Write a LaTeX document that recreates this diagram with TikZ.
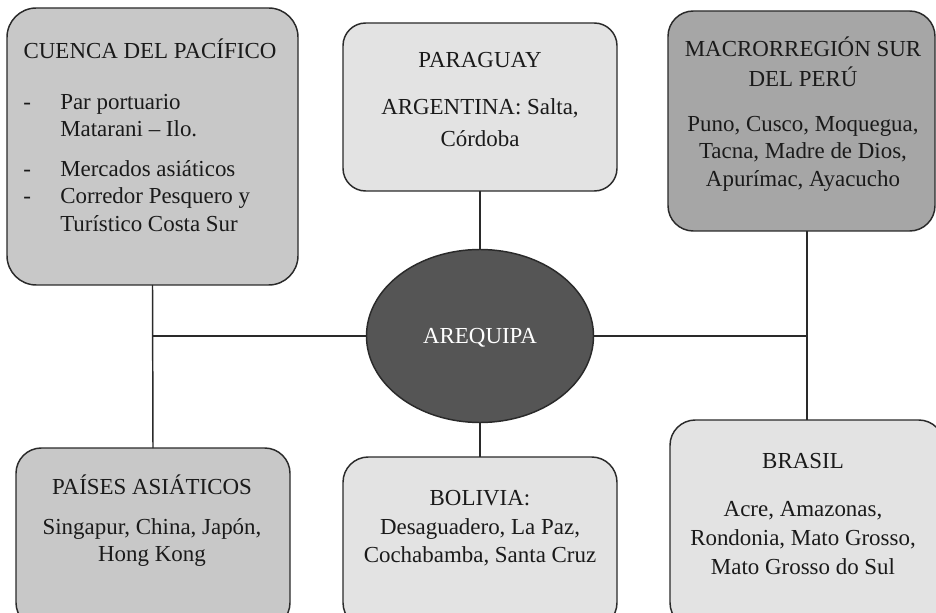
\documentclass[tikz,border=0pt]{standalone}
\usepackage{fontspec}
\setmainfont{Liberation Serif}
\usetikzlibrary{shapes.geometric}
\definecolor{lightbox}{HTML}{E3E3E3}
\definecolor{midbox}{HTML}{C8C8C8}
\definecolor{darkbox}{HTML}{A6A6A6}
\definecolor{hub}{HTML}{555555}
\definecolor{ink}{HTML}{1A1A1A}
\definecolor{edge}{HTML}{2A2A2A}
\begin{document}
\begin{tikzpicture}[x=0.75pt,y=-0.75pt,
  box/.style={draw=edge,line width=1.1pt,rectangle,rounded corners=19pt,inner sep=0pt,outer sep=0pt},
  hubnode/.style={draw=edge,line width=1.1pt,ellipse,fill=hub,inner sep=0pt,outer sep=0pt,minimum width=170.25pt,minimum height=129.75pt},
  txt/.style={anchor=base,inner sep=0pt,text=ink,font=\fontsize{17.2}{20}\selectfont},
  ltxt/.style={txt,anchor=base west},
  link/.style={draw=edge,line width=1.1pt}
]
\clip (0,0) rectangle (936,613);
\fill[white] (0,0) rectangle (936,613);

% boxes
\node[box,fill=midbox,minimum width=218.25pt,minimum height=207.75pt,rounded corners=22pt] (cuenca) at (152.5,146.5) {};
\node[box,fill=lightbox,minimum width=205.5pt,minimum height=126pt,rounded corners=17pt] (paraguay) at (480,107) {};
\node[box,fill=darkbox,minimum width=200.25pt,minimum height=165pt] (macro) at (801.5,121) {};
\node[box,fill=midbox,minimum width=205.5pt,minimum height=135pt] (paises) at (153,538) {};
\node[box,fill=lightbox,minimum width=205.5pt,minimum height=128.25pt] (bolivia) at (480,542.5) {};
\node[box,fill=lightbox,minimum width=205.5pt,minimum height=156pt] (brasil) at (807,524) {};
\node[hubnode] (arequipa) at (480,336) {};

% connectors
\draw[link] (cuenca.south) -- (paises.north);
\draw[link] (paraguay.south) -- (arequipa.north);
\draw[link] (arequipa.south) -- (bolivia.north);
\draw[link] (macro.south -| brasil.north) -- (brasil.north);
\draw[link] (arequipa.west) -- (arequipa.west -| cuenca.south);
\draw[link] (arequipa.east) -- (arequipa.east -| brasil.north);

% Cuenca text
\node[txt] (t1) at (150,59) {CUENCA DEL PACÍFICO};
\node[ltxt] (d1) at (23,110) {-};
\node[ltxt] (t2) at (60,110) {Par portuario};
\node[ltxt] (t3) at (60,137) {Matarani – Ilo.};
\node[ltxt] (d2) at (23,177) {-};
\node[ltxt] (t4) at (60,177) {Mercados asiáticos};
\node[ltxt] (d3) at (23,204) {-};
\node[ltxt] (t5) at (60,204) {Corredor Pesquero y};
\node[ltxt] (t6) at (60,232) {Turístico Costa Sur};

% Paraguay text
\node[txt] (p1) at (480,68) {PARAGUAY};
\node[txt] (p2) at (480,115) {ARGENTINA: Salta,};
\node[txt] (p3) at (480,147) {Córdoba};

% Macro text
\node[txt] (m1) at (803,57) {MACRORREGIÓN SUR};
\node[txt] (m2) at (803,87) {DEL PERÚ};
\node[txt] (m3) at (803,132) {Puno, Cusco, Moquegua,};
\node[txt] (m4) at (803,159) {Tacna, Madre de Dios,};
\node[txt] (m5) at (803,187) {Apurímac, Ayacucho};

% Arequipa
\node[txt,text=white] (a1) at (480,343) {AREQUIPA};

% Paises text
\node[txt] (s1) at (152,494) {PAÍSES ASIÁTICOS};
\node[txt] (s2) at (152,534) {Singapur, China, Japón,};
\node[txt] (s3) at (152,561) {Hong Kong};

% Bolivia text
\node[txt] (b1) at (480,505) {BOLIVIA:};
\node[txt] (b2) at (480,534) {Desaguadero, La Paz,};
\node[txt] (b3) at (480,562) {Cochabamba, Santa Cruz};

% Brasil text
\node[txt] (r1) at (803,468) {BRASIL};
\node[txt] (r2) at (803,516) {Acre, Amazonas,};
\node[txt] (r3) at (803,545) {Rondonia, Mato Grosso,};
\node[txt] (r4) at (803,574) {Mato Grosso do Sul};
\end{tikzpicture}
\end{document}
